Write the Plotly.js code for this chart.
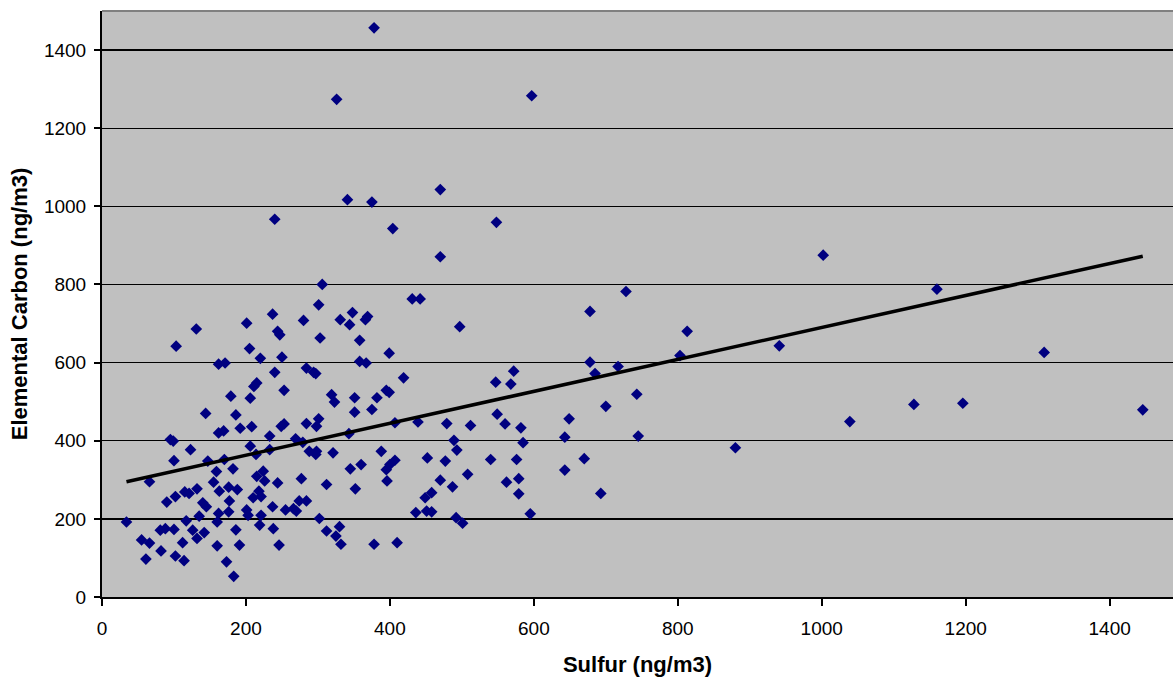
<!DOCTYPE html>
<html>
<head>
<meta charset="utf-8">
<script src="https://cdn.plot.ly/plotly-3.0.1.min.js"></script>
<style>
  html, body { margin: 0; padding: 0; background: #ffffff; }
  #chart { width: 1173px; height: 677px; }
</style>
</head>
<body>
<div id="chart"></div>
<script>
// Sulfur (ng/m3) values, x axis
const sulfur = [
  34,55,66,61,66,82,81,88,90,100,102,102,114,112,115,121,117,95,99,100,123,126,132,132,135,140,145,142,147,155,
  159,160,160,162,163,162,169,170,173,176,177,176,183,182,186,188,191,192,208,206,201,203,210,214,215,218,219,221,221,224,
  226,233,233,237,238,244,246,249,255,253,
  269,279,288,297,298,321,343,452,477,489,493,388,407,400,395,360,345,277,312,352,396,470,487,508,274,284,266,270,449,458,
  436,451,458,302,312,330,325,332,378,410,492,501,
  470,306,431,442,301,280,331,348,344,366,369,497,303,358,399,358,367,284,294,297,419,319,323,351,382,395,399,351,375,284,
  301,298,407,439,479,512,
  103,131,201,237,247,244,205,220,250,162,171,240,215,211,179,206,253,144,186,
  378,326,597,341,375,470,240,404,548,
  728,678,572,547,568,678,685,717,803,743,700,649,549,560,582,
  643,745,585,540,576,670,643,562,579,579,693,595,
  1002,813,941,1128,1039,880,1160,1309,1196,1446
];
// Elemental Carbon (ng/m3) values, y axis
const elementalCarbon = [
  192,146,138,97,295,118,171,175,243,173,257,105,93,139,269,265,195,403,399,349,377,171,277,150,207,241,231,165,348,294,
  321,131,192,214,271,420,425,352,90,218,246,281,53,328,172,275,133,432,436,386,223,209,254,365,309,271,184,257,209,322,
  297,412,377,231,175,292,133,437,223,443,
  405,396,373,365,373,369,418,356,348,401,376,373,350,339,326,339,328,303,288,277,297,299,282,314,246,246,226,220,254,267,
  216,220,218,201,169,180,156,135,135,139,203,189,
  871,800,763,763,748,708,710,728,697,710,718,692,663,657,624,603,599,586,575,572,561,518,499,510,510,529,524,473,480,444,
  456,437,446,448,444,439,
  642,686,701,724,671,680,636,611,614,596,599,575,548,539,514,509,529,470,466,
  1457,1274,1283,1017,1011,1043,967,943,959,
  782,731,578,550,545,601,572,590,618,519,488,456,468,443,433,
  409,412,395,352,352,354,325,294,303,264,265,213,
  875,680,643,493,449,382,788,626,496,479
];

// Linear trendline as shown on the chart (intercept and slope)
const trendIntercept = 281;
const trendSlope = 0.409;

const xTicks = [0, 200, 400, 600, 800, 1000, 1200, 1400];
const yTicks = [0, 200, 400, 600, 800, 1000, 1200, 1400];
const xTitle = 'Sulfur (ng/m3)';
const yTitle = 'Elemental Carbon (ng/m3)';

// trendline spans the data range
const trendX = [Math.min(...sulfur), Math.max(...sulfur)];
const trendY = trendX.map(v => trendIntercept + trendSlope * v);

const font = 'Liberation Sans, Arial, Helvetica, sans-serif';

const traces = [
  {
    type: 'scatter', mode: 'markers',
    x: sulfur, y: elementalCarbon,
    marker: { symbol: 'diamond', size: 9, color: '#000080', line: { width: 0 } },
    hoverinfo: 'x+y', showlegend: false
  },
  {
    type: 'scatter', mode: 'lines',
    x: trendX, y: trendY,
    line: { color: '#000000', width: 3.5 },
    hoverinfo: 'skip', showlegend: false
  }
];

const layout = {
  width: 1173, height: 677,
  margin: { l: 102, r: 0, t: 11, b: 80 },
  paper_bgcolor: '#ffffff',
  plot_bgcolor: '#C0C0C0',
  font: { family: font, size: 19, color: '#000000' },
  showlegend: false,
  xaxis: {
    range: [0, 1488],
    tickmode: 'array', tickvals: xTicks, ticktext: xTicks.map(String),
    ticks: 'outside', ticklen: 7, tickwidth: 2, tickcolor: '#000000',
    ticklabelstandoff: 6,
    showline: true, linecolor: '#000000', linewidth: 2,
    showgrid: false, zeroline: false,
    tickfont: { family: font, size: 19, color: '#000000' },
    title: { text: xTitle, font: { family: font, size: 22, color: '#000000', weight: 'bold' }, standoff: 19 },
    automargin: false
  },
  yaxis: {
    range: [0, 1500],
    tickmode: 'array', tickvals: yTicks, ticktext: yTicks.map(String),
    ticks: 'outside', ticklen: 6, tickwidth: 2, tickcolor: '#000000',
    ticklabelstandoff: 4,
    showline: true, linecolor: '#000000', linewidth: 2,
    showgrid: true, gridcolor: '#000000', gridwidth: 1.3,
    zeroline: false,
    tickfont: { family: font, size: 19, color: '#000000' },
    title: { text: yTitle, font: { family: font, size: 22, color: '#000000', weight: 'bold' }, standoff: 10 },
    automargin: false
  },
  shapes: [
    { type: 'line', xref: 'paper', yref: 'paper', x0: 0, x1: 1, y0: 1, y1: 1,
      line: { color: '#808080', width: 2 } }
  ]
};

Plotly.newPlot('chart', traces, layout, { staticPlot: true, displayModeBar: false });
</script>
</body>
</html>
